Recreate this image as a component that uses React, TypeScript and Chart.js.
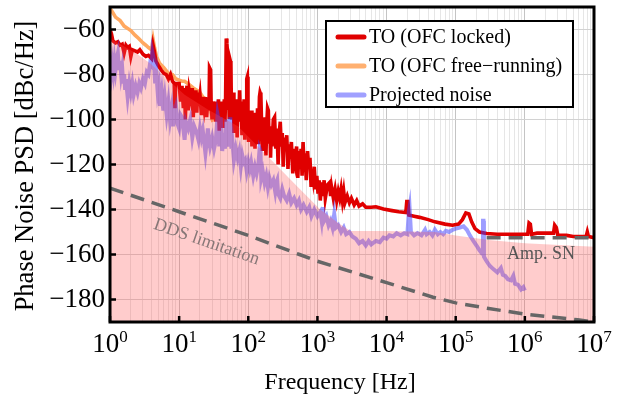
import React, { useEffect, useRef } from 'react';
import { Chart, registerables } from 'chart.js';

Chart.register(...registerables);

const SERIF = '"Liberation Serif", "Times New Roman", serif';

// axis ticks
const xDecades = [0, 1, 2, 3, 4, 5, 6, 7];
const yTicks = [-180, -160, -140, -120, -100, -80, -60];

// series: [frequency Hz, PSD dBc/Hz]
const toLocked: [number, number][] = [
  [1, -60], [1.05, -62], [1.1, -65], [1.2, -66], [1.3, -65.5], [1.4, -67], [1.5, -66.5], [1.6, -70.5], [1.7, -67],
  [1.8, -68], [1.9, -67.5], [2.0, -72], [2.1, -69], [2.3, -69.5], [2.5, -70], [2.7, -69], [3.0, -71], [3.3, -72],
  [3.6, -71.5], [4.0, -73], [4.2, -67], [4.4, -70], [4.6, -74], [5.0, -76], [5.5, -78], [6.0, -79.5], [6.5, -80],
  [7.0, -82], [7.5, -80], [8.0, -83], [8.5, -84], [8.7, -95], [8.9, -84], [9.5, -84], [10, -84], [10.5, -92], [11, -85],
  [11.5, -95], [12, -86], [12.3, -100], [12.6, -88], [13, -85], [13.5, -96], [14, -87], [15, -92], [15.5, -86], [16, -99],
  [16.5, -88], [17, -93], [17.5, -87], [18, -97], [18.5, -88], [19, -94], [20, -89], [21, -98], [22, -90], [23, -95],
  [24, -90], [25, -99], [26, -91], [27, -96], [27.5, -77], [28.5, -78], [29, -93], [30, -100], [31, -92], [32, -98],
  [33, -93], [34, -101], [35, -92], [36, -97], [37, -91], [38, -105], [39, -93], [40, -99], [41, -92], [42, -103],
  [43, -93], [44, -98], [45, -91], [46, -101], [47, -90], [48, -64], [49, -66], [50, -70], [51, -95], [52, -88],
  [53, -99], [54, -92], [55, -74], [56, -75], [57, -94], [58, -100], [59, -90], [60, -97], [61, -88], [62, -106],
  [63, -92], [65, -100], [67, -91], [69, -108], [71, -93], [73, -101], [75, -87], [77, -100], [79, -92], [81, -107],
  [83, -94], [85, -102], [87, -91], [89, -109], [91, -95], [93, -103], [95, -82], [97, -81], [99, -96], [101, -110],
  [104, -97], [107, -105], [110, -96], [113, -112], [116, -99], [119, -106], [122, -97], [125, -113], [128, -100],
  [132, -108], [136, -95], [140, -111], [145, -90], [148, -88], [152, -89], [156, -103], [160, -114], [165, -100],
  [170, -108], [175, -99], [180, -116], [185, -102], [190, -95], [195, -96], [200, -110], [205, -103], [210, -117],
  [215, -104], [220, -112], [230, -100], [240, -99], [250, -113], [260, -104], [270, -120], [280, -106], [290, -101],
  [300, -112], [310, -106], [320, -121], [330, -108], [345, -114], [360, -107], [375, -122], [390, -111], [405, -116],
  [420, -110], [440, -124], [460, -113], [480, -118], [500, -112], [520, -126], [540, -114], [560, -120], [580, -113],
  [600, -125], [620, -110], [640, -121], [660, -115], [690, -127], [720, -114], [750, -122], [780, -117], [810, -130],
  [840, -122], [870, -126], [900, -121], [940, -131], [980, -125], [1020, -133], [1060, -127], [1100, -136],
  [1150, -128], [1200, -134], [1250, -127], [1300, -135], [1400, -129], [1500, -128], [1550, -134], [1600, -130],
  [1700, -135], [1800, -131], [1900, -136], [2000, -132], [2100, -135], [2200, -131], [2300, -136], [2400, -132],
  [2500, -137], [2700, -134], [2900, -137], [3100, -135], [3400, -138], [3700, -136], [4000, -138.5], [4500, -137.5],
  [5000, -139], [6000, -139], [7000, -138.8], [9000, -139.8], [12000, -140.5], [15000, -141], [19000, -141.3],
  [19600, -136.5], [20400, -136.5], [21000, -142.5], [25000, -143], [30000, -143.5], [40000, -144.5], [50000, -145.5],
  [70000, -146.5], [90000, -147], [110000, -146.5], [125000, -144.5], [140000, -141.5], [155000, -142], [170000, -145.5],
  [190000, -148.5], [220000, -150], [280000, -150.7], [400000, -151], [600000, -151], [900000, -151], [1100000, -151],
  [1150000, -146], [1200000, -146.5], [1250000, -151], [1500000, -150.5], [2000000, -150.5], [2600000, -150.5],
  [2700000, -147], [2850000, -148], [3000000, -151.5], [4000000, -151.5], [5000000, -152], [6000000, -152],
  [7700000, -152], [8000000, -150], [8300000, -152], [10000000, -152.5],
];

const toFreeRunning: [number, number][] = [
  [1, -50.5], [1.1, -52.5], [1.2, -54.5], [1.4, -56], [1.6, -58.5], [1.8, -59.5], [2.0, -60.5], [2.3, -62.5],
  [2.6, -64], [3.0, -66], [3.3, -67], [3.6, -68], [4.0, -69], [4.2, -64.5], [4.4, -68], [4.7, -72], [5.2, -75],
  [6.0, -77], [7.0, -79.5], [8.0, -80], [9.0, -82], [10, -82.5], [11, -83], [12, -83], [14, -84.5], [16, -86],
  [18, -87], [20, -88], [22, -90], [25, -91], [28, -94], [30, -100], [31, -101],
];

const projectedNoise: [number, number][] = [
  [1, -76], [1.04, -80], [1.08, -75], [1.12, -79], [1.16, -74], [1.2, -78], [1.25, -73], [1.3, -70.5], [1.35, -78],
  [1.4, -74], [1.45, -80], [1.5, -77], [1.55, -84], [1.6, -80], [1.65, -86], [1.7, -82], [1.8, -90], [1.9, -84],
  [2.0, -88], [2.1, -84], [2.2, -89], [2.35, -85], [2.5, -88], [2.65, -84], [2.8, -86], [3.0, -82], [3.2, -84],
  [3.4, -79], [3.6, -80], [3.8, -75], [4.0, -76], [4.1, -70], [4.3, -73], [4.5, -84], [4.7, -80], [4.9, -88],
  [5.1, -85], [5.3, -94], [5.6, -88], [5.9, -96], [6.2, -90], [6.6, -98], [7.0, -92], [7.4, -100], [7.8, -95],
  [8.2, -103], [8.6, -96], [9.0, -94], [9.5, -102], [10, -104], [10.5, -98], [11, -99], [12, -109], [12.5, -101],
  [13.5, -104], [14.5, -100], [15.5, -108], [16.5, -103], [18, -106], [19, -109], [20, -104], [21, -108], [22, -105],
  [24, -115], [25, -110], [26, -104], [27, -109], [28, -112], [30, -108], [32, -113], [34, -109], [36, -98], [37, -100],
  [38, -112], [40, -99], [42, -114], [44, -106], [46, -113], [48, -100], [50, -112], [52, -108], [55, -99], [57, -113],
  [59, -110], [62, -118], [66, -113], [70, -117], [74, -114], [78, -121], [82, -116], [86, -119], [90, -118],
  [95, -123], [100, -119], [105, -122], [110, -119], [118, -125], [125, -121], [132, -124], [140, -120], [146, -113],
  [150, -114], [154, -126], [162, -123], [172, -128], [182, -125], [192, -130], [202, -126], [215, -129], [230, -127],
  [245, -132], [255, -128], [262, -127], [270, -133], [290, -135], [310, -131], [330, -134], [360, -136], [390, -133],
  [420, -137], [460, -135], [500, -138], [540, -136], [580, -140], [630, -138], [700, -141], [760, -139], [820, -143],
  [900, -140], [1000, -143], [1100, -141], [1150, -145], [1200, -139], [1250, -145], [1350, -143], [1450, -147],
  [1550, -145], [1650, -148], [1750, -142], [1850, -148], [2000, -147], [2200, -150], [2400, -148], [2600, -151],
  [2900, -150], [3200, -152], [3600, -153], [4000, -155], [4500, -154], [5000, -156], [5500, -154], [6000, -155.5],
  [7000, -154], [8000, -154.5], [9000, -152.5], [10000, -153], [11000, -151.5], [12500, -152], [14000, -150.5],
  [16000, -151.5], [18000, -150.5], [20000, -151], [21000, -141], [21500, -139], [22500, -150], [25000, -151.5],
  [28000, -150.5], [32000, -151.5], [36000, -149], [38000, -151], [42000, -150], [46000, -151.5], [50000, -149],
  [55000, -151], [60000, -150], [66000, -151], [72000, -149.5], [80000, -150], [90000, -149], [100000, -148.5],
  [115000, -148], [130000, -147.5], [145000, -149], [160000, -151.5], [180000, -154], [200000, -156], [220000, -158],
  [240000, -159.5], [248000, -145], [252000, -145], [256000, -161], [280000, -163], [310000, -165], [350000, -166.5],
  [400000, -168], [450000, -166], [480000, -169], [520000, -169.5], [570000, -171], [630000, -171.5], [680000, -169.5],
  [720000, -173], [800000, -173.5], [880000, -175.5], [950000, -174.5], [1000000, -176],
];

const shadedBound: [number, number][] = [
  [1, -64], [1.5, -67], [2.5, -71], [3.8, -75], [6.2, -81], [12, -89], [26, -95.5], [71, -103], [200, -117],
  [560, -131], [1100, -140], [2000, -146], [3000, -149.5], [10000, -149.5], [50000, -150], [100000, -151.5],
  [300000, -153.5], [1000000, -155], [10000000, -156.5],
];

const ddsLimit: [number, number][] = [
  [1, -130.5], [10, -141], [100, -151.5], [550, -160], [1000, -163], [10000, -172.5], [47000, -179],
  [100000, -181.5], [300000, -184], [1000000, -186.5], [5800000, -189], [10000000, -190],
];

const ampSN: [number, number][] = [[280000, -152.6], [10000000, -152.6]];

const legendItems = [
  { label: 'TO (OFC locked)', color: '#e00000' },
  { label: 'TO (OFC free\u2212running)', color: '#ffb070' },
  { label: 'Projected noise', color: '#a0a0ff' },
];

const pts = (arr: [number, number][]) => arr.map(([x, y]) => ({ x, y }));

const overlay = {
  id: 'overlay',
  afterDraw(chart: any) {
    const { ctx, chartArea: a } = chart;
    const xs = chart.scales.x;
    const ys = chart.scales.y;
    ctx.save();

    // annotations
    ctx.textAlign = 'center';
    ctx.textBaseline = 'middle';
    ctx.font = `18px ${SERIF}`;
    ctx.fillStyle = '#877777';
    ctx.save();
    ctx.translate(xs.getPixelForValue(24.9), ys.getPixelForValue(-154.5));
    ctx.rotate((19 * Math.PI) / 180);
    ctx.fillText('DDS limitation', 0, 0);
    ctx.restore();
    ctx.fillStyle = '#555555';
    ctx.fillText('Amp. SN', xs.getPixelForValue(1.71e6), ys.getPixelForValue(-160));

    // frame
    ctx.strokeStyle = '#000';
    ctx.lineWidth = 3;
    ctx.strokeRect(a.left, a.top, a.right - a.left, a.bottom - a.top);

    // inward ticks
    ctx.lineWidth = 2.5;
    ctx.beginPath();
    xDecades.forEach((d) => {
      const px = xs.getPixelForValue(Math.pow(10, d));
      ctx.moveTo(px, a.bottom);
      ctx.lineTo(px, a.bottom - 6);
    });
    yTicks.forEach((v) => {
      const py = ys.getPixelForValue(v);
      ctx.moveTo(a.left, py);
      ctx.lineTo(a.left + 6, py);
    });
    ctx.stroke();

    // x tick labels 10^n
    ctx.fillStyle = '#000';
    ctx.textAlign = 'left';
    ctx.textBaseline = 'alphabetic';
    xDecades.forEach((d) => {
      const px = xs.getPixelForValue(Math.pow(10, d));
      ctx.font = `27px ${SERIF}`;
      const w1 = ctx.measureText('10').width;
      ctx.font = `17px ${SERIF}`;
      const w2 = ctx.measureText(String(d)).width;
      const start = px - (w1 + w2) / 2;
      ctx.font = `27px ${SERIF}`;
      ctx.fillText('10', start, a.bottom + 30);
      ctx.font = `17px ${SERIF}`;
      ctx.fillText(String(d), start + w1, a.bottom + 20);
    });

    // axis titles
    ctx.font = `24px ${SERIF}`;
    ctx.textAlign = 'center';
    ctx.fillText('Frequency [Hz]', 340, 389);
    ctx.save();
    ctx.translate(26, 166);
    ctx.rotate(-Math.PI / 2);
    ctx.font = `26.5px ${SERIF}`;
    ctx.textBaseline = 'middle';
    ctx.fillText('Phase Noise PSD [dBc/Hz]', 0, 0);
    ctx.restore();

    // legend
    const bx = 326, by = 21, bw = 247, bh = 86;
    ctx.fillStyle = '#fff';
    ctx.fillRect(bx, by, bw, bh);
    ctx.lineWidth = 2;
    ctx.strokeStyle = '#000';
    ctx.strokeRect(bx, by, bw, bh);
    ctx.font = `20px ${SERIF}`;
    ctx.textAlign = 'left';
    ctx.textBaseline = 'middle';
    legendItems.forEach((it, i) => {
      const cy = by + 16 + i * 29;
      ctx.strokeStyle = it.color;
      ctx.lineWidth = 5;
      ctx.lineCap = 'round';
      ctx.beginPath();
      ctx.moveTo(bx + 12, cy);
      ctx.lineTo(bx + 38, cy);
      ctx.stroke();
      ctx.fillStyle = '#000';
      ctx.fillText(it.label, bx + 43, cy + 1);
    });
    ctx.restore();
  },
};

export default function App() {
  const ref = useRef<HTMLCanvasElement>(null);
  useEffect(() => {
    if (!ref.current) return;
    const xTickVals: number[] = [];
    xDecades.forEach((d) => {
      if (d === 7) { xTickVals.push(1e7); return; }
      for (let m = 1; m <= 9; m++) xTickVals.push(m * Math.pow(10, d));
    });
    const line = (data: any, color: string, width: number, order: number, extra: any = {}) => ({
      data: pts(data), borderColor: color, borderWidth: width, pointRadius: 0, tension: 0,
      fill: false, order, ...extra,
    });
    const chart = new Chart(ref.current, {
      type: 'line',
      data: {
        datasets: [
          line(ddsLimit, '#666666', 3.5, 0, { borderDash: [14, 8] }),
          line(ampSN, '#666666', 3.5, 0, { borderDash: [14, 8] }),
          line(shadedBound, 'rgba(0,0,0,0)', 0, 1, { fill: 'start', backgroundColor: 'rgba(255,80,80,0.29)' }),
          line(projectedNoise, 'rgba(60,60,255,0.5)', 4, 2),
          line(toLocked, '#e00000', 3.6, 3),
          line(toFreeRunning, '#ffa860', 3.6, 4),
        ] as any,
      },
      plugins: [overlay],
      options: {
        animation: false,
        responsive: false,
        maintainAspectRatio: false,
        layout: { padding: { top: 7, right: 29, left: 0, bottom: 0 } },
        plugins: { legend: { display: false }, tooltip: { enabled: false } },
        scales: {
          x: {
            type: 'logarithmic',
            min: 1,
            max: 1e7,
            afterBuildTicks: (s: any) => { s.ticks = xTickVals.map((v) => ({ value: v })); },
            afterFit: (s: any) => { s.height = 74; s.paddingLeft = 0; s.paddingRight = 0; },
            ticks: { display: false },
            grid: {
              drawTicks: false,
              color: (c: any) => {
                const v = c.tick ? c.tick.value : 1;
                const l = Math.log10(v);
                return Math.abs(l - Math.round(l)) < 1e-6 ? '#c4c4c4' : '#e6e6e6';
              },
              lineWidth: 1,
            },
            border: { display: false },
            title: { display: false },
          },
          y: {
            type: 'linear',
            min: -190,
            max: -50,
            afterBuildTicks: (s: any) => { s.ticks = yTicks.map((v) => ({ value: v })); },
            afterFit: (s: any) => { s.width = 110; s.paddingTop = 0; s.paddingBottom = 0; },
            ticks: {
              color: '#000', font: { family: SERIF, size: 27 }, padding: 5,
              callback: (v: any) => '\u2212' + Math.abs(Number(v)),
            },
            grid: { drawTicks: false, color: '#d2d2d2', lineWidth: 1 },
            border: { display: false },
            title: { display: false },
          },
        },
      } as any,
    });
    return () => chart.destroy();
  }, []);
  return (
    <div style={{ position: 'fixed', left: 0, top: 0, width: 623, height: 396, background: '#fff' }}>
      <canvas ref={ref} width={623} height={396} style={{ display: 'block', width: 623, height: 396 }} />
    </div>
  );
}
